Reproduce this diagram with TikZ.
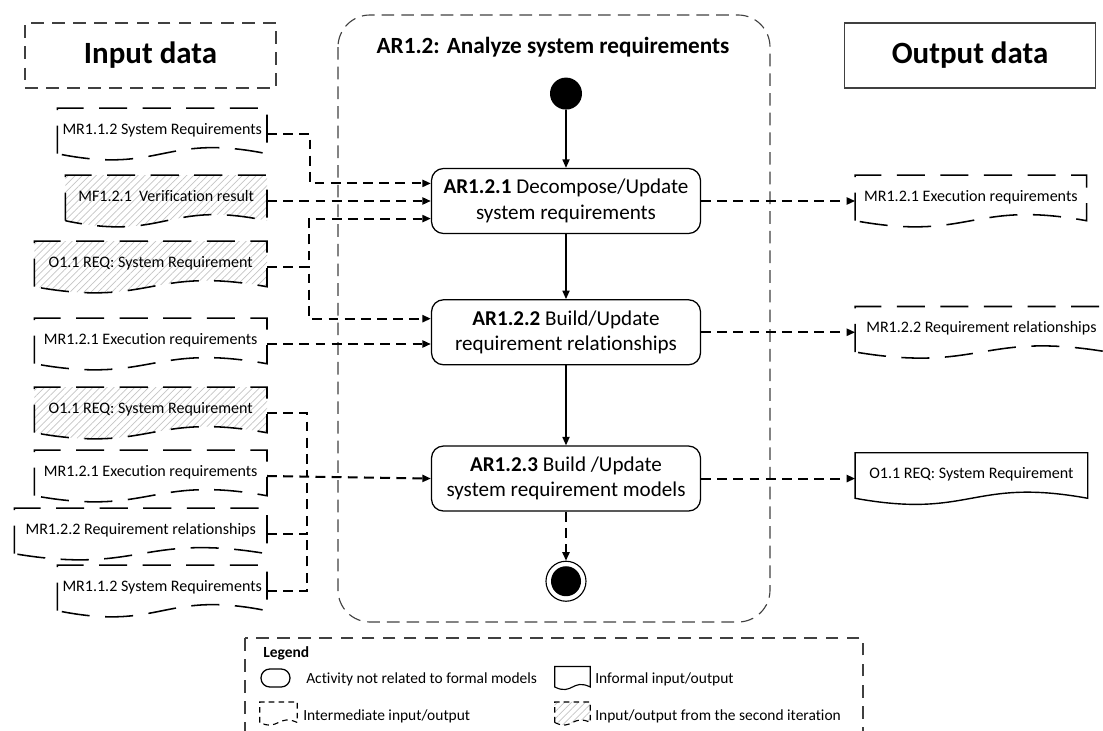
\documentclass[tikz,border=0pt]{standalone}
\usepackage{fontspec}
\setmainfont{Carlito}[Ligatures=NoCommon]
\usepackage{tikz}
\usetikzlibrary{positioning, arrows.meta, calc, backgrounds, patterns.meta}
\definecolor{framegray}{HTML}{404040}
\definecolor{hatchgray}{HTML}{C4C4C4}

% document shape with a wavy bottom, drawn round a named node
\newcommand{\iodoc}[3][4.3pt]{%
  \path[#3] ([yshift=#1]#2.south west) -- (#2.north west) -- (#2.north east) -- ([yshift=#1]#2.south east)
    .. controls ([yshift=4.5*#1]#2.south) and ([yshift=-2.5*#1]#2.south) .. ([yshift=#1]#2.south west) -- cycle;}

\begin{document}
\begin{tikzpicture}[
  x=0.25mm, y=-0.25mm,
  node distance=10mm,
  every node/.style={font=\fontsize{11}{13}\selectfont},
  act/.style={rectangle, rounded corners=3mm, draw, line width=0.9pt, align=center, minimum width=67.25mm, minimum height=16.25mm, font=\fontsize{15}{18}\selectfont},
  startnode/.style={circle, fill=black, minimum size=8mm, inner sep=0pt},
  stopnode/.style={circle, draw, line width=0.8pt, minimum size=10mm, inner sep=0pt, path picture={\fill (path picture bounding box.center) circle (3.75mm);}},
  io/.style={rectangle, inner sep=0pt, minimum height=12.75mm, text height=8pt, text depth=8pt, font=\fontsize{11.4}{13}\selectfont},
  docdash/.style={draw, line width=1.1pt, dash pattern=on 20pt off 11pt},
  docsolid/.style={draw, line width=1pt},
  hatched/.style={pattern={Lines[angle=45, distance=3.5pt, line width=0.5pt]}, pattern color=hatchgray},
  header/.style={rectangle, minimum width=62.75mm, minimum height=16.25mm, font=\fontsize{22}{26}\selectfont\bfseries, line width=0.8pt, draw=framegray},
  linkline/.style={line width=1.45pt, dash pattern=on 7pt off 4.5pt},
  flow/.style={-{Triangle[length=6pt, width=5pt]}, line width=1.1pt},
  link/.style={flow, linkline},
]
\path[use as bounding box, clip] (0,0) rectangle (1103,731);

% headers and frame
\node[header, dash pattern=on 9pt off 6pt] (inhead) at (150.5,55.5) {Input data};
\node[header] (outhead) at (970,55.5) {Output data};
\draw[framegray, line width=0.8pt, dash pattern=on 9pt off 5pt, rounded corners=8mm] (338,15) rectangle (770,622);
\node[font=\fontsize{16.5}{20}\selectfont\bfseries] (title) at (553,47) {AR1.2: Analyze system requirements};

% activities
\node[act] (a1) at (566,201) {\textbf{AR1.2.1} Decompose/Update\\system requirements};
\node[act, below=16.25mm of a1] (a2) {\textbf{AR1.2.2} Build/Update\\requirement relationships};
\node[act, below=20mm of a2] (a3) {\textbf{AR1.2.3} Build /Update\\system requirement models};
\node[startnode, above=14.5mm of a1] (start) {};
\node[stopnode, below=12.25mm of a3] (stop) {};

% inputs
\node[io, minimum width=52.25mm, anchor=east] (in1) at (267,134) {MR1.1.2 System Requirements};
\node[io, minimum width=50.25mm, anchor=east] (in2) at (267,201) {MF1.2.1\ \ Verification result};
\node[io, minimum width=58mm, anchor=east] (in3) at (267,267) {O1.1 REQ: System Requirement};
\node[io, minimum width=58mm, anchor=east] (in4) at (267,344) {MR1.2.1 Execution requirements};
\node[io, minimum width=58mm, anchor=east] (in5) at (267,413) {O1.1 REQ: System Requirement};
\node[io, minimum width=58mm, anchor=east] (in6) at (267,476) {MR1.2.1 Execution requirements};
\node[io, minimum width=63mm, anchor=east] (in7) at (267,534) {MR1.2.2 Requirement relationships};
\node[io, minimum width=52.25mm, anchor=east] (in8) at (267,591) {MR1.1.2 System Requirements};

% outputs
\node[io, minimum width=57.75mm, right=38.5mm of a1] (out1) {MR1.2.1 Execution requirements};
\node[io, minimum width=63mm, right=38.5mm of a2] (out2) {MR1.2.2 Requirement relationships};
\node[io, minimum width=58mm, right=38.5mm of a3] (out3) {O1.1 REQ: System Requirement};

% legend
\draw[framegray, line width=0.8pt, dash pattern=on 9pt off 6pt] (245,638) rectangle (863,770);
\node[font=\fontsize{11}{13}\selectfont\bfseries, anchor=west, inner sep=0pt] (legtitle) at (263,653) {Legend};
\node[draw, line width=0.9pt, rounded corners=2.2mm, minimum width=7.25mm, minimum height=4.5mm, inner sep=0pt] (legact) at (275.5,678) {};
\node[anchor=west, inner sep=0pt] (legacttext) at (306,679) {Activity not related to formal models};
\node[io, minimum width=8.75mm, minimum height=4.5mm] (leginf) at (572.5,678) {};
\node[anchor=west, inner sep=0pt] (leginftext) at (595,679) {Informal input/output};
\node[io, minimum width=9.25mm, minimum height=4.25mm] (legmid) at (278.5,713.5) {};
\node[anchor=west, inner sep=0pt] (legmidtext) at (303,716) {Intermediate input/output};
\node[io, minimum width=8.75mm, minimum height=4.25mm] (legsec) at (572.5,713.5) {};
\node[anchor=west, inner sep=0pt] (legsectext) at (595,716) {Input/output from the second iteration};

\begin{scope}[on background layer]
  \iodoc{in1}{docdash}
  \iodoc{in2}{docdash, hatched}
  \iodoc{in3}{docdash, hatched}
  \iodoc{in4}{docdash}
  \iodoc{in5}{docdash, hatched}
  \iodoc{in6}{docdash}
  \iodoc{in7}{docdash}
  \iodoc{in8}{docdash}
  \iodoc{out1}{docdash}
  \iodoc{out2}{docdash}
  \iodoc{out3}{docsolid}
  \iodoc[1.8pt]{leginf}{docsolid, line width=0.8pt}
  \iodoc[1.8pt]{legmid}{draw, line width=0.8pt, dash pattern=on 4pt off 3pt}
  \iodoc[1.8pt]{legsec}{draw, line width=0.8pt, dash pattern=on 4pt off 3pt, hatched}
\end{scope}

% control flow
\draw[flow] (start) -- (a1);
\draw[flow] (a1) -- (a2);
\draw[flow] (a2) -- (a3);
\draw[link] (a3) -- (stop);

% inputs to activities
\coordinate[xshift=10mm] (j3) at (in6.east);
\draw[link] (in1.east) -- ++(43,0) |- ([yshift=4.4mm]a1.west);
\draw[link] (in2.east) -- (a1.west);
\draw[link] (in3.east) -- ++(42,0) |- ([yshift=-4.4mm]a1.west);
\draw[link] (in3.east) -- ++(42,0) |- ([yshift=3.4mm]a2.west);
\draw[link] (in4.east) -- (in4.east -| a2.west);
\draw[link] (in6.east) -- (a3.west);
\draw[linkline] (in5.east) -| (j3);
\draw[linkline] (in7.east) -| (j3);
\draw[linkline] (in8.east) -| (in7.east -| j3);

% activities to outputs
\draw[link] (a1) -- (out1);
\draw[link] (a2) -- (out2);
\draw[link] (a3) -- (out3);
\end{tikzpicture}
\end{document}
